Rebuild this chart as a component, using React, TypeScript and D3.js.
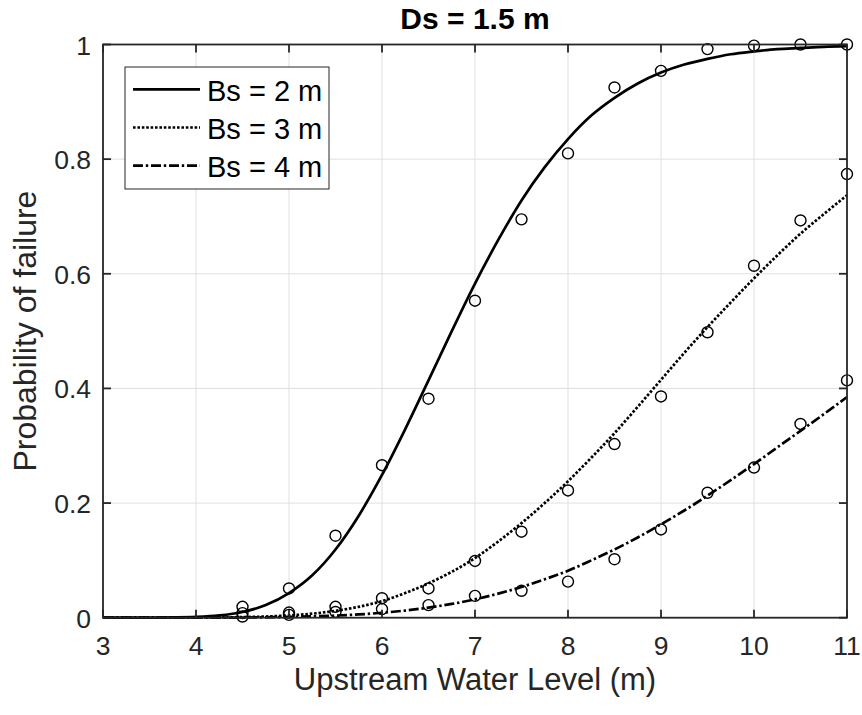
import React from "react";
import * as d3 from "d3";

// Observed points (Upstream water level, m)
const obsX = [4.5, 5, 5.5, 6, 6.5, 7, 7.5, 8, 8.5, 9, 9.5, 10, 10.5, 11];
const obsBs2 = [0.019, 0.051, 0.143, 0.266, 0.382, 0.553, 0.695, 0.81, 0.925, 0.954, 0.992, 0.998, 1.0, 1.0];
const obsBs3 = [0.008, 0.009, 0.019, 0.034, 0.051, 0.099, 0.15, 0.222, 0.303, 0.386, 0.498, 0.614, 0.693, 0.774];
const obsBs4 = [0.002, 0.005, 0.01, 0.015, 0.022, 0.038, 0.047, 0.063, 0.102, 0.154, 0.218, 0.262, 0.338, 0.414];

// Fitted curves
const curveX = [3, 3.25, 3.5, 3.75, 4, 4.25, 4.5, 4.75, 5, 5.25, 5.5, 5.75, 6, 6.25, 6.5, 6.75, 7, 7.25, 7.5, 7.75, 8, 8.25, 8.5, 8.75, 9, 9.25, 9.5, 9.75, 10, 10.25, 10.5, 10.75, 11];
const fitBs2 = [0, 0, 0, 0.0004, 0.0013, 0.0039, 0.01, 0.022, 0.043, 0.074, 0.119, 0.178, 0.249, 0.329, 0.414, 0.5, 0.583, 0.659, 0.728, 0.786, 0.835, 0.876, 0.907, 0.932, 0.951, 0.965, 0.975, 0.983, 0.988, 0.992, 0.994, 0.996, 0.997];
const fitBs3 = [0, 0, 0, 0, 0.0002, 0.0005, 0.001, 0.002, 0.004, 0.007, 0.012, 0.019, 0.029, 0.043, 0.06, 0.08, 0.104, 0.133, 0.165, 0.2, 0.238, 0.279, 0.322, 0.368, 0.415, 0.462, 0.507, 0.55, 0.592, 0.632, 0.67, 0.704, 0.737];
const fitBs4 = [0, 0, 0, 0, 0, 0, 0.0003, 0.0007, 0.0013, 0.0023, 0.0037, 0.0057, 0.0086, 0.0125, 0.0176, 0.024, 0.032, 0.042, 0.0535, 0.067, 0.082, 0.1, 0.119, 0.14, 0.163, 0.187, 0.213, 0.24, 0.268, 0.297, 0.326, 0.355, 0.385];

const xTicks = [3, 4, 5, 6, 7, 8, 9, 10, 11];
const yTicks = [0, 0.2, 0.4, 0.6, 0.8, 1];
const yTickLabels = ["0", "0.2", "0.4", "0.6", "0.8", "1"];
const legendLabels = ["Bs = 2 m", "Bs = 3 m", "Bs = 4 m"];
const titleText = "Ds = 1.5 m";
const xLabel = "Upstream Water Level (m)";
const yLabel = "Probability of failure";

const W = 862;
const H = 715;
const L = 103, R = 847, T = 44.5, B = 617.7;
const FONT = "'Liberation Sans', Arial, Helvetica, sans-serif";
const AX = "#262626";

const series = [
  { fit: fitBs2, obs: obsBs2, dash: "none" },
  { fit: fitBs3, obs: obsBs3, dash: "2.6,1.8" },
  { fit: fitBs4, obs: obsBs4, dash: "10,2.8,2.4,2.8" },
];

export default function App() {
  const x = d3.scaleLinear().domain([3, 11]).range([L, R]);
  const y = d3.scaleLinear().domain([0, 1]).range([B, T]);
  const line = d3
    .line<number>()
    .x((_, i) => x(curveX[i]))
    .y((d) => y(d))
    .curve(d3.curveMonotoneX);
  const tick = 8;

  return (
    <svg
      width={W}
      height={H}
      viewBox={`0 0 ${W} ${H}`}
      style={{ position: "absolute", left: 0, top: 0, background: "#fff" }}
      fontFamily={FONT}
    >
      <rect x={0} y={0} width={W} height={H} fill="#fff" />
      {/* grid */}
      <g stroke="#dfdfdf" strokeWidth={1}>
        {xTicks.map((t) => (
          <line key={"gx" + t} x1={x(t)} x2={x(t)} y1={T} y2={B} />
        ))}
        {yTicks.map((t) => (
          <line key={"gy" + t} x1={L} x2={R} y1={y(t)} y2={y(t)} />
        ))}
      </g>
      {/* curves */}
      <g fill="none" stroke="#000" strokeWidth={2.7}>
        {series.map((s, i) => (
          <path key={"c" + i} d={line(s.fit) || ""} strokeDasharray={s.dash} />
        ))}
      </g>
      {/* markers */}
      <g fill="none" stroke="#000" strokeWidth={1.4}>
        {series.map((s, i) =>
          s.obs.map((v, j) => (
            <circle key={"m" + i + "-" + j} cx={x(obsX[j])} cy={y(v)} r={5.5} />
          ))
        )}
      </g>
      {/* axes box and ticks */}
      <g stroke={AX} strokeWidth={1.8} fill="none">
        <rect x={L} y={T} width={R - L} height={B - T} />
        {xTicks.map((t) => (
          <g key={"tx" + t}>
            <line x1={x(t)} x2={x(t)} y1={B} y2={B - tick} />
            <line x1={x(t)} x2={x(t)} y1={T} y2={T + tick} />
          </g>
        ))}
        {yTicks.map((t) => (
          <g key={"ty" + t}>
            <line x1={L} x2={L + tick} y1={y(t)} y2={y(t)} />
            <line x1={R} x2={R - tick} y1={y(t)} y2={y(t)} />
          </g>
        ))}
      </g>
      {/* tick labels */}
      <g fill={AX} fontSize={26.5}>
        {xTicks.map((t) => (
          <text key={"lx" + t} x={x(t)} y={655} textAnchor="middle">
            {t}
          </text>
        ))}
        {yTicks.map((t, i) => (
          <text key={"ly" + t} x={91} y={y(t) + 10} textAnchor="end">
            {yTickLabels[i]}
          </text>
        ))}
      </g>
      {/* axis labels */}
      <text x={(L + R) / 2} y={690} textAnchor="middle" fontSize={31} fill={AX}>
        {xLabel}
      </text>
      <text
        transform={`translate(36,${(T + B) / 2}) rotate(-90)`}
        textAnchor="middle"
        fontSize={32}
        fill={AX}
      >
        {yLabel}
      </text>
      {/* title */}
      <text x={(L + R) / 2} y={28.5} textAnchor="middle" fontSize={30} fontWeight="bold" fill="#000">
        {titleText}
      </text>
      {/* legend */}
      <g>
        <rect x={125} y={67} width={204} height={122} fill="#fff" stroke={AX} strokeWidth={1} />
        {series.map((s, i) => {
          const ly = 89.3 + i * 38.2;
          return (
            <g key={"lg" + i}>
              <line x1={133} x2={200} y1={ly} y2={ly} stroke="#000" strokeWidth={2.7} strokeDasharray={s.dash} />
              <text x={207} y={ly + 11.5} fontSize={29} fill="#000">
                {legendLabels[i]}
              </text>
            </g>
          );
        })}
      </g>
    </svg>
  );
}
